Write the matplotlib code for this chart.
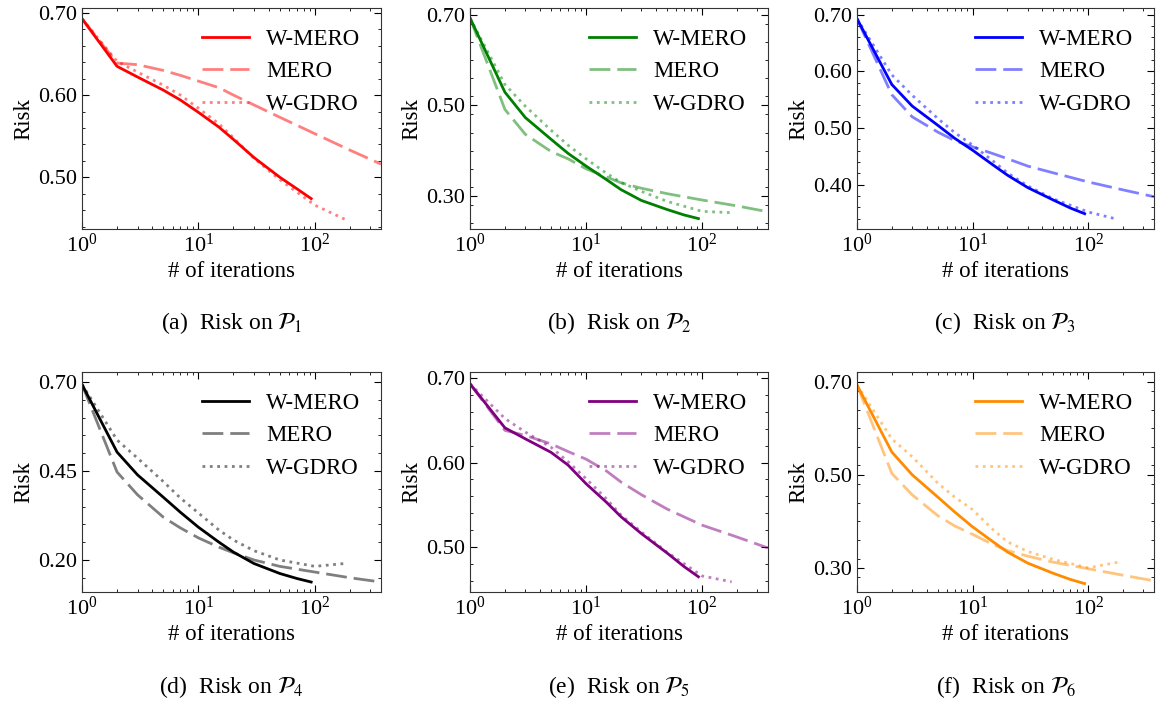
import numpy as np
import matplotlib.pyplot as plt
from matplotlib.ticker import MultipleLocator, FixedLocator

plt.rcParams['font.family'] = ['Liberation Serif', 'DejaVu Serif']
plt.rcParams['mathtext.fontset'] = 'stix'
plt.rcParams['font.size'] = 16

# iteration points of each method
iters_wmero = [1, 2, 3, 5, 7, 10, 15, 20, 30, 50, 70, 93]
iters_mero = [1, 2, 3, 5, 7, 10, 15, 20, 30, 50, 100, 200, 370]
iters_wgdro = [1, 2, 3, 5, 7, 10, 15, 20, 30, 50, 100, 180]

# risk on P1 .. P6
p1_wmero = [0.693, 0.635, 0.622, 0.606, 0.594, 0.579, 0.561, 0.546, 0.524, 0.500, 0.486, 0.474]
p1_mero = [0.693, 0.639, 0.637, 0.630, 0.624, 0.617, 0.609, 0.600, 0.588, 0.573, 0.553, 0.533, 0.516]
p1_wgdro = [0.693, 0.641, 0.628, 0.612, 0.600, 0.584, 0.565, 0.548, 0.523, 0.497, 0.466, 0.449]

p2_wmero = [0.693, 0.529, 0.473, 0.425, 0.394, 0.366, 0.336, 0.314, 0.290, 0.270, 0.258, 0.250]
p2_mero = [0.693, 0.491, 0.436, 0.398, 0.382, 0.360, 0.342, 0.329, 0.317, 0.305, 0.291, 0.278, 0.265]
p2_wgdro = [0.693, 0.546, 0.498, 0.445, 0.412, 0.382, 0.350, 0.330, 0.310, 0.288, 0.266, 0.263]

p3_wmero = [0.693, 0.577, 0.539, 0.505, 0.482, 0.461, 0.435, 0.417, 0.395, 0.373, 0.359, 0.349]
p3_mero = [0.693, 0.559, 0.520, 0.493, 0.478, 0.467, 0.455, 0.446, 0.433, 0.421, 0.405, 0.391, 0.379]
p3_wgdro = [0.693, 0.594, 0.558, 0.517, 0.492, 0.470, 0.442, 0.421, 0.398, 0.375, 0.352, 0.339]

p4_wmero = [0.693, 0.503, 0.439, 0.376, 0.334, 0.292, 0.250, 0.222, 0.190, 0.162, 0.148, 0.138]
p4_mero = [0.693, 0.447, 0.383, 0.320, 0.290, 0.262, 0.236, 0.220, 0.200, 0.182, 0.166, 0.150, 0.138]
p4_wgdro = [0.693, 0.537, 0.486, 0.420, 0.374, 0.332, 0.284, 0.256, 0.226, 0.200, 0.182, 0.190]

p5_wmero = [0.693, 0.641, 0.628, 0.612, 0.597, 0.575, 0.553, 0.536, 0.516, 0.493, 0.477, 0.465]
p5_mero = [0.693, 0.638, 0.632, 0.622, 0.613, 0.604, 0.590, 0.577, 0.562, 0.545, 0.526, 0.512, 0.499]
p5_wgdro = [0.693, 0.652, 0.636, 0.618, 0.601, 0.581, 0.557, 0.538, 0.518, 0.494, 0.466, 0.459]

p6_wmero = [0.693, 0.549, 0.500, 0.452, 0.420, 0.388, 0.356, 0.334, 0.310, 0.288, 0.275, 0.266]
p6_mero = [0.693, 0.503, 0.457, 0.412, 0.390, 0.372, 0.350, 0.337, 0.325, 0.312, 0.298, 0.284, 0.272]
p6_wgdro = [0.693, 0.577, 0.539, 0.482, 0.452, 0.425, 0.382, 0.356, 0.335, 0.318, 0.300, 0.312]

colors = ['#ff0000', '#008000', '#0000ff', '#000000', '#800080', '#ff8c00']
captions = ['(a)  Risk on $\\mathcal{P}_1$', '(b)  Risk on $\\mathcal{P}_2$',
            '(c)  Risk on $\\mathcal{P}_3$', '(d)  Risk on $\\mathcal{P}_4$',
            '(e)  Risk on $\\mathcal{P}_5$', '(f)  Risk on $\\mathcal{P}_6$']
yticks = [[0.50, 0.60, 0.70], [0.30, 0.50, 0.70], [0.40, 0.50, 0.60, 0.70],
          [0.20, 0.45, 0.70], [0.50, 0.60, 0.70], [0.30, 0.50, 0.70]]
yminor = [0.02, 0.04, 0.02, 0.05, 0.02, 0.04]
ylims = [(0.437, 0.706), (0.227, 0.715), (0.322, 0.712),
         (0.110, 0.728), (0.447, 0.707), (0.248, 0.721)]

data = [(p1_wmero, p1_mero, p1_wgdro), (p2_wmero, p2_mero, p2_wgdro),
        (p3_wmero, p3_mero, p3_wgdro), (p4_wmero, p4_mero, p4_wgdro),
        (p5_wmero, p5_mero, p5_wgdro), (p6_wmero, p6_mero, p6_wgdro)]

W, H = 1156, 702
fig = plt.figure(figsize=(W / 100, H / 100), dpi=100)

# axes boxes in pixels: left, right / top, bottom
cols = [(82, 381), (470, 768), (857, 1154)]
rows = [(8, 229), (372, 592)]
cap_y = [323, 687]

for i in range(6):
    r, c = divmod(i, 3)
    x0, x1 = cols[c]
    y0, y1 = rows[r]
    ax = fig.add_axes([x0 / W, 1 - y1 / H, (x1 - x0) / W, (y1 - y0) / H])
    wm, me, wg = data[i]
    col = colors[i]
    ax.plot(iters_wmero, wm, color=col, lw=2, label='W-MERO')
    ax.plot(iters_mero, me, color=col, lw=2, alpha=0.5, dashes=(7.5, 2.5), label='MERO')
    ax.plot(iters_wgdro, wg, color=col, lw=2, alpha=0.5, ls=':', label='W-GDRO')
    ax.set_xscale('log')
    ax.set_xlim(1, 370)
    ax.set_ylim(*ylims[i])
    ax.yaxis.set_major_locator(FixedLocator(yticks[i]))
    ax.yaxis.set_major_formatter(plt.FormatStrFormatter('%.2f'))
    ax.yaxis.set_minor_locator(MultipleLocator(yminor[i]))
    ax.tick_params(which='both', direction='in', top=True, right=True, labelsize=16)
    ax.tick_params(which='major', length=5)
    ax.tick_params(which='minor', length=2.5)
    for s in ax.spines.values():
        s.set_color('#333333')
    ax.set_xlabel('# of iterations', fontsize=16.5, labelpad=3)
    ax.set_ylabel('Risk', fontsize=16.5, labelpad=3)
    ax.legend(loc='upper right', frameon=False, fontsize=16.5, handlelength=2.05,
              handletextpad=0.75, labelspacing=0.5, borderaxespad=0.5)
    fig.text((x0 + x1) / 2 / W, 1 - cap_y[r] / H, captions[i], ha='center', va='center', fontsize=17)

fig.savefig('out.png', dpi=100)
